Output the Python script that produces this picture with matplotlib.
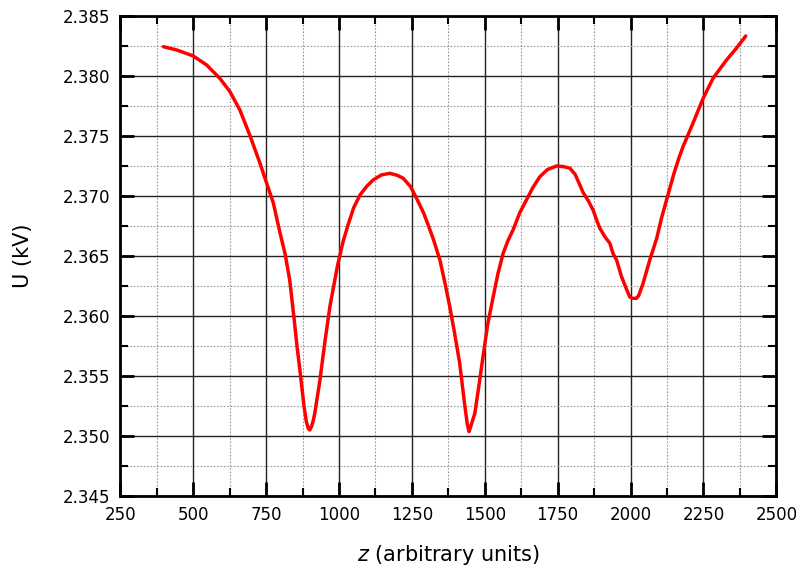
import numpy as np
import matplotlib.pyplot as plt
from matplotlib.ticker import MultipleLocator, FormatStrFormatter

# z positions (arbitrary units) and voltage U (kV)
z = [398, 443, 500, 546, 591, 626, 660, 694, 729, 752, 775, 797, 815, 831,
     845, 856, 866, 872, 880, 888, 895, 900, 906, 912, 917, 934, 952, 969,
     995, 1014, 1031, 1050, 1072, 1095, 1117, 1145, 1174, 1200, 1220,
     1245, 1266, 1290, 1306, 1325, 1346, 1363, 1380, 1397, 1414, 1432,
     1440, 1446, 1452, 1466, 1480, 1494, 1510, 1529, 1545, 1563, 1580,
     1597, 1620, 1643, 1665, 1689, 1715, 1746, 1770, 1792, 1810, 1826,
     1837, 1855, 1872, 1885, 1895, 1912, 1929, 1940, 1952, 1969, 1985,
     1997, 2005, 2020, 2028, 2043, 2066, 2077, 2090, 2106, 2125, 2148,
     2165, 2180, 2214, 2249, 2283, 2329, 2363, 2395]
u = [2.38244, 2.38217, 2.38167, 2.38092, 2.37981, 2.37870, 2.37717,
     2.37508, 2.37273, 2.37106, 2.36940, 2.36700, 2.36520, 2.36300,
     2.36000, 2.35750, 2.35550, 2.35420, 2.35250, 2.35120, 2.35060,
     2.35050, 2.35080, 2.35130, 2.35190, 2.35453, 2.35790, 2.36080,
     2.36420, 2.36619, 2.36758, 2.36900, 2.37008, 2.37080, 2.37133,
     2.37175, 2.37189, 2.37172, 2.37148, 2.37080, 2.36981, 2.36860,
     2.36758, 2.36630, 2.36467, 2.36280, 2.36078, 2.35850, 2.35606,
     2.35244, 2.35100, 2.35036, 2.35080, 2.35189, 2.35420, 2.35661,
     2.35930, 2.36161, 2.36350, 2.36522, 2.36630, 2.36717, 2.36860,
     2.36967, 2.37070, 2.37161, 2.37220, 2.37250, 2.37245, 2.37231,
     2.37180, 2.37092, 2.37030, 2.36960, 2.36880, 2.36790, 2.36730,
     2.36660, 2.36606, 2.36520, 2.36467, 2.36328, 2.36230, 2.36160,
     2.36147, 2.36147, 2.36170, 2.36272, 2.36467, 2.36550, 2.36650,
     2.36814, 2.36980, 2.37180, 2.37310, 2.37411, 2.37606, 2.37814,
     2.37981, 2.38133, 2.38231, 2.38333]

fig = plt.figure(figsize=(8.02, 5.79), dpi=100)
ax = fig.add_axes([0.150, 0.1434, 0.818, 0.829])

ax.plot(z, u, color="#ff0000", lw=2.5, solid_capstyle="round",
        solid_joinstyle="round")

ax.set_xlim(250, 2500)
ax.set_ylim(2.345, 2.385)
ax.xaxis.set_major_locator(MultipleLocator(250))
ax.xaxis.set_minor_locator(MultipleLocator(125))
ax.yaxis.set_major_locator(MultipleLocator(0.005))
ax.yaxis.set_minor_locator(MultipleLocator(0.0025))
ax.yaxis.set_major_formatter(FormatStrFormatter("%.3f"))

ax.grid(True, which="major", color="#222222", lw=1.0, ls="-")
ax.grid(True, which="minor", color="#999999", lw=0.8, ls=(0, (1.5, 1.5)))
ax.set_axisbelow(True)

ax.tick_params(which="both", direction="in", top=True, right=True,
               labelsize=12, pad=7)
ax.tick_params(which="major", length=10, width=2)
ax.tick_params(which="minor", length=6, width=1.5)
for s in ax.spines.values():
    s.set_linewidth(2)

ax.set_xlabel(r"$z$ (arbitrary units)", fontsize=15, labelpad=14)
ax.set_ylabel("U (kV)", fontsize=15, labelpad=22)

plt.savefig("out.png", dpi=100)
